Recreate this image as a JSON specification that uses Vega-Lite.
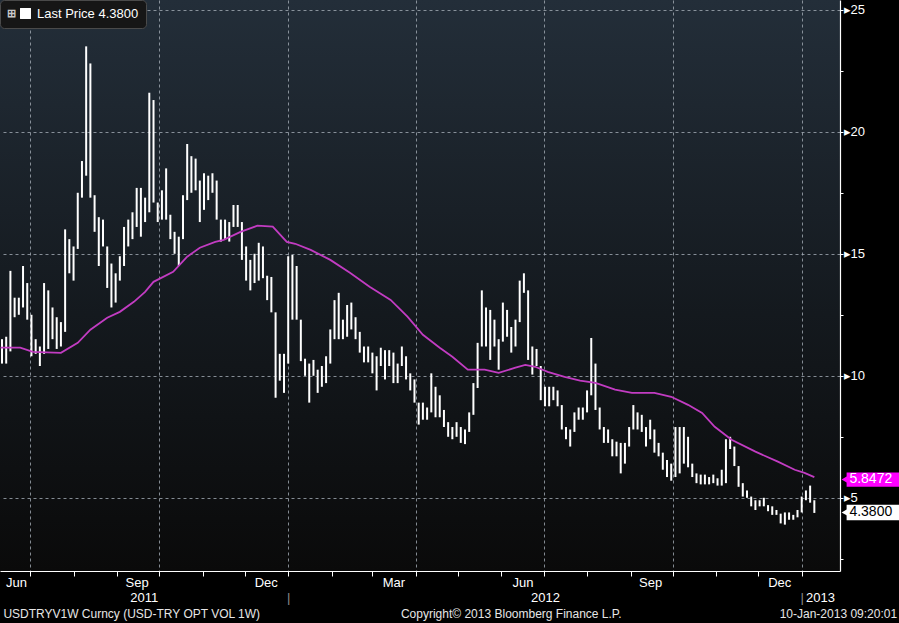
{
  "$schema": "https://vega.github.io/schema/vega-lite/v6.json",
  "autosize": {"type": "none"},
  "padding": {"left": 0, "top": 0, "right": 59, "bottom": 52},
  "width": 840,
  "height": 571,
  "background": "#000000",
  "view": {"fill": {"gradient": "linear", "x1": 0, "y1": 0, "x2": 0, "y2": 1, "stops": [{"offset": 0, "color": "#232e39"}, {"offset": 0.55, "color": "#14191e"}, {"offset": 1, "color": "#0a0a0a"}]}, "stroke": null},
  "config": {"font": "Liberation Sans"},
  "datasets": {
    "px": [
      {"d":"2011-06-11","l":10.5,"h":11.5},{"d":"2011-06-14","l":10.5,"h":11.6},{"d":"2011-06-17","l":11.0,"h":14.3},{"d":"2011-06-20","l":12.4,"h":13.2},
      {"d":"2011-06-23","l":12.5,"h":13.2},{"d":"2011-06-26","l":12.8,"h":14.5},{"d":"2011-06-29","l":12.3,"h":13.8},{"d":"2011-07-02","l":10.8,"h":12.5},
      {"d":"2011-07-05","l":10.9,"h":11.5},{"d":"2011-07-08","l":10.4,"h":11.2},{"d":"2011-07-11","l":10.9,"h":13.8},{"d":"2011-07-14","l":11.1,"h":13.5},
      {"d":"2011-07-17","l":11.5,"h":12.8},{"d":"2011-07-20","l":11.1,"h":12.4},{"d":"2011-07-23","l":11.2,"h":12.2},{"d":"2011-07-26","l":11.8,"h":16.0},
      {"d":"2011-07-29","l":14.2,"h":15.6},{"d":"2011-08-01","l":13.9,"h":15.3},{"d":"2011-08-04","l":15.2,"h":17.5},{"d":"2011-08-07","l":17.3,"h":18.8},
      {"d":"2011-08-10","l":18.2,"h":23.5},{"d":"2011-08-13","l":17.3,"h":22.8},{"d":"2011-08-16","l":15.9,"h":17.4},{"d":"2011-08-19","l":14.5,"h":16.5},
      {"d":"2011-08-22","l":15.3,"h":16.4},{"d":"2011-08-25","l":13.6,"h":15.3},{"d":"2011-08-28","l":12.8,"h":14.6},{"d":"2011-08-31","l":13.0,"h":14.2},
      {"d":"2011-09-03","l":13.9,"h":14.9},{"d":"2011-09-06","l":14.5,"h":16.1},{"d":"2011-09-09","l":15.3,"h":16.4},{"d":"2011-09-12","l":15.6,"h":16.7},
      {"d":"2011-09-15","l":16.1,"h":17.7},{"d":"2011-09-18","l":15.7,"h":17.7},{"d":"2011-09-21","l":16.3,"h":17.3},{"d":"2011-09-24","l":16.7,"h":21.6},
      {"d":"2011-09-27","l":17.1,"h":21.3},{"d":"2011-09-30","l":16.3,"h":17.1},{"d":"2011-10-03","l":16.4,"h":17.6},{"d":"2011-10-06","l":16.4,"h":18.5},
      {"d":"2011-10-09","l":15.6,"h":16.6},{"d":"2011-10-12","l":15.0,"h":15.9},{"d":"2011-10-15","l":14.5,"h":15.7},{"d":"2011-10-18","l":15.6,"h":17.4},
      {"d":"2011-10-21","l":17.2,"h":19.5},{"d":"2011-10-24","l":17.5,"h":19.0},{"d":"2011-10-27","l":17.6,"h":18.9},{"d":"2011-10-30","l":16.3,"h":18.0},
      {"d":"2011-11-02","l":16.8,"h":18.3},{"d":"2011-11-05","l":17.2,"h":18.2},{"d":"2011-11-08","l":17.5,"h":18.3},{"d":"2011-11-11","l":16.4,"h":18.0},
      {"d":"2011-11-14","l":15.5,"h":16.4},{"d":"2011-11-17","l":15.6,"h":16.4},{"d":"2011-11-20","l":15.5,"h":16.3},{"d":"2011-11-23","l":16.1,"h":17.0},
      {"d":"2011-11-26","l":16.1,"h":17.0},{"d":"2011-11-29","l":14.75,"h":16.3},{"d":"2011-12-02","l":13.9,"h":15.3},{"d":"2011-12-05","l":13.5,"h":14.75},
      {"d":"2011-12-08","l":13.8,"h":15.0},{"d":"2011-12-11","l":13.9,"h":15.45},{"d":"2011-12-14","l":14.0,"h":15.3},{"d":"2011-12-17","l":13.1,"h":14.1},
      {"d":"2011-12-20","l":12.6,"h":14.05},{"d":"2011-12-23","l":9.1,"h":12.6},{"d":"2011-12-26","l":9.8,"h":10.9},{"d":"2011-12-29","l":9.3,"h":10.9},
      {"d":"2012-01-01","l":10.5,"h":14.9},{"d":"2012-01-04","l":12.3,"h":14.95},{"d":"2012-01-07","l":12.3,"h":14.5},{"d":"2012-01-10","l":10.6,"h":12.3},
      {"d":"2012-01-13","l":10.0,"h":10.7},{"d":"2012-01-16","l":8.9,"h":10.5},{"d":"2012-01-19","l":10.0,"h":10.65},{"d":"2012-01-22","l":9.3,"h":10.25},
      {"d":"2012-01-25","l":9.55,"h":10.4},{"d":"2012-01-28","l":9.7,"h":10.8},{"d":"2012-01-31","l":10.5,"h":11.9},{"d":"2012-02-03","l":11.5,"h":13.1},
      {"d":"2012-02-06","l":11.5,"h":13.4},{"d":"2012-02-09","l":11.5,"h":12.3},{"d":"2012-02-12","l":11.6,"h":12.9},{"d":"2012-02-15","l":11.9,"h":13.0},
      {"d":"2012-02-18","l":11.5,"h":12.4},{"d":"2012-02-21","l":10.95,"h":11.8},{"d":"2012-02-24","l":10.55,"h":11.2},{"d":"2012-02-27","l":10.55,"h":11.2},
      {"d":"2012-03-01","l":10.1,"h":10.95},{"d":"2012-03-04","l":9.4,"h":10.8},{"d":"2012-03-07","l":10.4,"h":11.15},{"d":"2012-03-10","l":9.85,"h":11.05},
      {"d":"2012-03-13","l":10.4,"h":11.05},{"d":"2012-03-16","l":9.7,"h":10.95},{"d":"2012-03-19","l":9.7,"h":10.5},{"d":"2012-03-22","l":10.4,"h":11.2},
      {"d":"2012-03-25","l":9.85,"h":10.8},{"d":"2012-03-28","l":9.4,"h":10.1},{"d":"2012-03-31","l":8.9,"h":9.85},{"d":"2012-04-03","l":8.0,"h":8.9},
      {"d":"2012-04-06","l":8.2,"h":8.9},{"d":"2012-04-09","l":8.2,"h":8.7},{"d":"2012-04-12","l":8.5,"h":10.1},{"d":"2012-04-15","l":8.3,"h":9.55},
      {"d":"2012-04-18","l":8.3,"h":9.2},{"d":"2012-04-21","l":7.9,"h":8.6},{"d":"2012-04-24","l":7.5,"h":8.1},{"d":"2012-04-27","l":7.4,"h":7.9},
      {"d":"2012-04-30","l":7.5,"h":8.1},{"d":"2012-05-03","l":7.25,"h":7.9},{"d":"2012-05-06","l":7.2,"h":7.8},{"d":"2012-05-09","l":7.7,"h":8.5},
      {"d":"2012-05-12","l":8.4,"h":9.7},{"d":"2012-05-15","l":9.5,"h":11.35},{"d":"2012-05-18","l":11.2,"h":13.5},{"d":"2012-05-21","l":11.2,"h":12.8},
      {"d":"2012-05-24","l":10.65,"h":12.7},{"d":"2012-05-27","l":11.2,"h":12.3},{"d":"2012-05-30","l":10.25,"h":11.5},{"d":"2012-06-02","l":11.4,"h":13.0},
      {"d":"2012-06-05","l":11.6,"h":12.7},{"d":"2012-06-08","l":10.95,"h":12.0},{"d":"2012-06-11","l":11.2,"h":12.3},{"d":"2012-06-14","l":12.2,"h":13.9},
      {"d":"2012-06-17","l":13.4,"h":14.2},{"d":"2012-06-20","l":10.65,"h":13.5},{"d":"2012-06-23","l":10.05,"h":11.2},{"d":"2012-06-26","l":10.4,"h":11.1},
      {"d":"2012-06-29","l":9.0,"h":10.4},{"d":"2012-07-02","l":8.75,"h":9.55},{"d":"2012-07-05","l":8.75,"h":9.55},{"d":"2012-07-08","l":9.0,"h":9.55},
      {"d":"2012-07-11","l":8.75,"h":9.4},{"d":"2012-07-14","l":7.8,"h":8.8},{"d":"2012-07-17","l":7.4,"h":7.9},{"d":"2012-07-20","l":7.1,"h":7.8},
      {"d":"2012-07-23","l":7.7,"h":8.5},{"d":"2012-07-26","l":8.2,"h":8.7},{"d":"2012-07-29","l":8.2,"h":8.7},{"d":"2012-08-01","l":8.5,"h":9.4},
      {"d":"2012-08-04","l":9.2,"h":11.55},{"d":"2012-08-07","l":8.6,"h":10.5},{"d":"2012-08-10","l":7.8,"h":8.7},{"d":"2012-08-13","l":7.25,"h":7.9},
      {"d":"2012-08-16","l":7.25,"h":7.8},{"d":"2012-08-19","l":6.7,"h":7.4},{"d":"2012-08-22","l":6.7,"h":7.3},{"d":"2012-08-25","l":6.0,"h":7.25},
      {"d":"2012-08-28","l":6.4,"h":7.25},{"d":"2012-08-31","l":7.1,"h":7.9},{"d":"2012-09-03","l":7.8,"h":8.8},{"d":"2012-09-06","l":7.8,"h":8.5},
      {"d":"2012-09-09","l":7.7,"h":8.4},{"d":"2012-09-12","l":7.1,"h":7.9},{"d":"2012-09-15","l":7.4,"h":8.2},{"d":"2012-09-18","l":6.85,"h":7.8},
      {"d":"2012-09-21","l":6.7,"h":7.25},{"d":"2012-09-24","l":6.15,"h":6.85},{"d":"2012-09-27","l":5.85,"h":6.55},{"d":"2012-09-30","l":5.7,"h":6.4},
      {"d":"2012-10-03","l":5.85,"h":7.9},{"d":"2012-10-06","l":6.0,"h":7.9},{"d":"2012-10-09","l":6.4,"h":7.9},{"d":"2012-10-12","l":6.25,"h":7.5},
      {"d":"2012-10-15","l":5.85,"h":6.4},{"d":"2012-10-18","l":5.6,"h":6.0},{"d":"2012-10-21","l":5.55,"h":5.95},{"d":"2012-10-24","l":5.55,"h":5.95},
      {"d":"2012-10-27","l":5.55,"h":5.85},{"d":"2012-10-30","l":5.6,"h":5.95},{"d":"2012-11-02","l":5.5,"h":5.8},{"d":"2012-11-05","l":5.5,"h":6.15},
      {"d":"2012-11-08","l":5.6,"h":7.4},{"d":"2012-11-11","l":7.0,"h":7.5},{"d":"2012-11-14","l":6.3,"h":7.1},{"d":"2012-11-17","l":5.45,"h":6.3},
      {"d":"2012-11-20","l":5.05,"h":5.6},{"d":"2012-11-23","l":5.0,"h":5.3},{"d":"2012-11-26","l":4.65,"h":5.05},{"d":"2012-11-29","l":4.5,"h":4.9},
      {"d":"2012-12-02","l":4.65,"h":4.9},{"d":"2012-12-05","l":4.65,"h":5.0},{"d":"2012-12-08","l":4.45,"h":4.7},{"d":"2012-12-11","l":4.3,"h":4.65},
      {"d":"2012-12-14","l":4.3,"h":4.5},{"d":"2012-12-17","l":3.95,"h":4.35},{"d":"2012-12-20","l":3.9,"h":4.4},{"d":"2012-12-23","l":4.1,"h":4.4},
      {"d":"2012-12-26","l":4.1,"h":4.3},{"d":"2012-12-29","l":4.2,"h":4.5},{"d":"2013-01-01","l":4.4,"h":5.05},{"d":"2013-01-04","l":4.9,"h":5.3},
      {"d":"2013-01-07","l":4.8,"h":5.5},{"d":"2013-01-10","l":4.38,"h":4.9}
    ],
    "ma": [
      {"d":"2011-06-10","v":11.15},{"d":"2011-06-24","v":11.15},{"d":"2011-07-03","v":10.98},{"d":"2011-07-23","v":10.94},
      {"d":"2011-08-04","v":11.35},{"d":"2011-08-13","v":11.89},{"d":"2011-08-25","v":12.38},{"d":"2011-09-03","v":12.62},
      {"d":"2011-09-13","v":13.03},{"d":"2011-09-21","v":13.44},{"d":"2011-09-27","v":13.85},{"d":"2011-10-11","v":14.26},
      {"d":"2011-10-21","v":14.88},{"d":"2011-10-30","v":15.25},{"d":"2011-11-10","v":15.49},{"d":"2011-11-16","v":15.57},
      {"d":"2011-11-28","v":15.9},{"d":"2011-12-10","v":16.15},{"d":"2011-12-21","v":16.11},{"d":"2011-12-31","v":15.49},
      {"d":"2012-01-06","v":15.41},{"d":"2012-01-17","v":15.16},{"d":"2012-01-31","v":14.75},{"d":"2012-02-14","v":14.22},
      {"d":"2012-02-28","v":13.65},{"d":"2012-03-14","v":13.11},{"d":"2012-03-26","v":12.42},{"d":"2012-04-06","v":11.68},
      {"d":"2012-04-18","v":11.15},{"d":"2012-04-27","v":10.78},{"d":"2012-05-08","v":10.25},{"d":"2012-05-20","v":10.25},
      {"d":"2012-05-30","v":10.12},{"d":"2012-06-11","v":10.33},{"d":"2012-06-18","v":10.45},{"d":"2012-06-25","v":10.37},
      {"d":"2012-07-04","v":10.16},{"d":"2012-07-16","v":9.96},{"d":"2012-07-27","v":9.8},{"d":"2012-08-07","v":9.71},
      {"d":"2012-08-21","v":9.43},{"d":"2012-09-02","v":9.3},{"d":"2012-09-18","v":9.3},{"d":"2012-09-30","v":9.14},
      {"d":"2012-10-12","v":8.81},{"d":"2012-10-22","v":8.48},{"d":"2012-10-31","v":7.91},{"d":"2012-11-12","v":7.38},
      {"d":"2012-11-29","v":6.89},{"d":"2012-12-15","v":6.48},{"d":"2012-12-27","v":6.15},{"d":"2013-01-03","v":6.02},
      {"d":"2013-01-10","v":5.85}
    ],
    "tags": [
      {"s":"ma","t":"5.8472","d0":"2013-02-02","d1":"2013-03-13","dp":"2013-02-01","dt":"2013-02-04","lo":5.45,"hi":6.04,"mid":5.75},
      {"s":"px","t":"4.3800","d0":"2013-02-02","d1":"2013-03-13","dp":"2013-02-01","dt":"2013-02-04","lo":4.08,"hi":4.72,"mid":4.40}
    ],
    "foot": [
      {"p":"left","t":"USDTRYV1W Curncy (USD-TRY OPT VOL 1W)","d":"2011-06-12"},
      {"p":"center","t":"Copyright\u00a9 2013 Bloomberg Finance L.P.","d":"2012-06-08"},
      {"p":"right","t":"10-Jan-2013 09:20:01","d":"2013-03-10"}
    ]
  },
  "encoding": {
    "x": {
      "field": "d", "type": "temporal",
      "scale": {"type": "utc", "domain": [{"year": 2011, "month": 6, "date": 9, "hours": 14, "utc": true}, {"year": 2013, "month": 1, "date": 28, "hours": 7, "utc": true}]},
      "axis": {
        "title": null,
        "values": [
          {"year":2011,"month":7,"date":1,"utc":true},{"year":2011,"month":8,"date":1,"utc":true},{"year":2011,"month":9,"date":1,"utc":true},
          {"year":2011,"month":10,"date":1,"utc":true},{"year":2011,"month":11,"date":1,"utc":true},{"year":2011,"month":12,"date":1,"utc":true},
          {"year":2012,"month":1,"date":1,"utc":true},{"year":2012,"month":2,"date":1,"utc":true},{"year":2012,"month":3,"date":1,"utc":true},
          {"year":2012,"month":4,"date":1,"utc":true},{"year":2012,"month":5,"date":1,"utc":true},{"year":2012,"month":6,"date":1,"utc":true},
          {"year":2012,"month":7,"date":1,"utc":true},{"year":2012,"month":8,"date":1,"utc":true},{"year":2012,"month":9,"date":1,"utc":true},
          {"year":2012,"month":10,"date":1,"utc":true},{"year":2012,"month":11,"date":1,"utc":true},{"year":2012,"month":12,"date":1,"utc":true},
          {"year":2013,"month":1,"date":1,"utc":true},
          {"year":2011,"month":6,"date":21,"utc":true},{"year":2011,"month":9,"date":15,"utc":true},{"year":2011,"month":12,"date":16,"utc":true},
          {"year":2012,"month":3,"date":16,"utc":true},{"year":2012,"month":6,"date":16,"utc":true},{"year":2012,"month":9,"date":15,"utc":true},
          {"year":2012,"month":12,"date":16,"utc":true},
          {"year":2011,"month":9,"date":20,"utc":true},{"year":2012,"month":7,"date":2,"utc":true},{"year":2013,"month":1,"date":14,"utc":true}
        ],
        "labelExpr": "utcdate(datum.value) == 1 ? (utcmonth(datum.value) == 0 ? ['', '|'] : '') : (indexof([2, 14, 20], utcdate(datum.value)) >= 0 ? ['', utcFormat(datum.value, '%Y')] : utcFormat(datum.value, '%b'))",
        "labelColor": {"condition": {"test": "utcdate(datum.value) == 1", "value": "#8c8c8c"}, "value": "#ffffff"},
        "labelFontSize": 13,
        "labelPadding": 0,
        "labelLineHeight": 15,
        "labelBaseline": "top",
        "labelAlign": "center",
        "labelOverlap": false,
        "labelFlush": false,
        "labelBound": false,
        "tickColor": "#ffffff",
        "tickSize": 5,
        "tickOpacity": {"condition": {"test": "utcdate(datum.value) == 1", "value": 1}, "value": 0},
        "grid": true,
        "gridColor": "#a3abb4",
        "gridDash": [3, 3],
        "gridOpacity": {"condition": {"test": "utcdate(datum.value) == 1 && utcmonth(datum.value) % 3 == 0", "value": 0.8}, "value": 0},
        "domainColor": "#ffffff",
        "domainWidth": 1.2
      }
    }
  },
  "layer": [
    {
      "data": {"name": "px"},
      "mark": {"type": "rule", "strokeWidth": 2},
      "encoding": {
        "y": {
          "field": "l", "type": "quantitative",
          "scale": {"domain": [2.0, 25.4], "nice": false, "zero": false},
          "axis": {
            "orient": "right", "title": null,
            "values": [2.5, 5, 7.5, 10, 12.5, 15, 17.5, 20, 22.5, 25],
            "labelExpr": "datum.value % 5 == 0 ? '\u25b8' + datum.value : ''",
            "labelColor": "#ffffff", "labelFontSize": 13, "labelPadding": 0,
            "labelOverlap": false, "labelFlush": false, "labelBound": false,
            "tickColor": "#ffffff", "tickSize": 3,
            "domainColor": "#ffffff", "domainWidth": 1.2,
            "grid": true, "gridColor": "#a3abb4", "gridDash": [3, 3],
            "gridOpacity": {"condition": {"test": "datum.value % 5 == 0", "value": 0.8}, "value": 0}
          }
        },
        "y2": {"field": "h"},
        "color": {
          "datum": "Last Price 4.3800", "type": "nominal",
          "scale": {"range": ["#ffffff"]},
          "legend": {
            "orient": "top-left", "offset": 0, "title": "\u229e", "titleOrient": "left",
            "titleColor": "#c8c8c8", "titleFontSize": 11, "titlePadding": 3,
            "fillColor": "#161616", "strokeColor": "#4a4a4a", "cornerRadius": 4, "padding": 7,
            "labelColor": "#ffffff", "labelFontSize": 13, "labelOffset": 5,
            "symbolType": "square", "symbolSize": 120, "symbolFillColor": "#ffffff",
            "symbolStrokeColor": "#ffffff", "symbolStrokeWidth": 0
          }
        }
      }
    },
    {
      "data": {"name": "ma"},
      "mark": {"type": "line", "color": "#c23cc2", "strokeWidth": 1.8},
      "encoding": {"y": {"field": "v", "type": "quantitative"}}
    },
    {
      "data": {"name": "tags"},
      "mark": {"type": "rect", "clip": false},
      "encoding": {
        "x": {"field": "d0", "type": "temporal"},
        "x2": {"field": "d1"},
        "y": {"field": "lo", "type": "quantitative"},
        "y2": {"field": "hi"},
        "fill": {"field": "s", "type": "nominal", "scale": {"domain": ["ma", "px"], "range": ["#ff00ff", "#ffffff"]}, "legend": null}
      }
    },
    {
      "data": {"name": "tags"},
      "mark": {"type": "point", "shape": "triangle-left", "filled": true, "size": 70, "opacity": 1, "clip": false},
      "encoding": {
        "x": {"field": "dp", "type": "temporal"},
        "y": {"field": "mid", "type": "quantitative"},
        "fill": {"field": "s", "type": "nominal", "legend": null}
      }
    },
    {
      "data": {"name": "tags"},
      "transform": [{"filter": "datum.s == 'ma'"}],
      "mark": {"type": "text", "align": "left", "baseline": "middle", "fontSize": 14, "color": "#ffffff", "clip": false},
      "encoding": {
        "x": {"field": "dt", "type": "temporal"},
        "y": {"field": "mid", "type": "quantitative"},
        "text": {"field": "t"}
      }
    },
    {
      "data": {"name": "tags"},
      "transform": [{"filter": "datum.s == 'px'"}],
      "mark": {"type": "text", "align": "left", "baseline": "middle", "fontSize": 14, "color": "#000000", "clip": false},
      "encoding": {
        "x": {"field": "dt", "type": "temporal"},
        "y": {"field": "mid", "type": "quantitative"},
        "text": {"field": "t"}
      }
    },
    {
      "data": {"name": "foot"},
      "transform": [{"filter": "datum.p == 'left'"}],
      "mark": {"type": "text", "align": "left", "baseline": "middle", "fontSize": 12, "color": "#e6e6e6", "clip": false},
      "encoding": {"y": {"datum": 0.24, "type": "quantitative"}, "text": {"field": "t"}}
    },
    {
      "data": {"name": "foot"},
      "transform": [{"filter": "datum.p == 'center'"}],
      "mark": {"type": "text", "align": "center", "baseline": "middle", "fontSize": 12, "color": "#e6e6e6", "clip": false},
      "encoding": {"y": {"datum": 0.24, "type": "quantitative"}, "text": {"field": "t"}}
    },
    {
      "data": {"name": "foot"},
      "transform": [{"filter": "datum.p == 'right'"}],
      "mark": {"type": "text", "align": "right", "baseline": "middle", "fontSize": 12, "color": "#e6e6e6", "clip": false},
      "encoding": {"y": {"datum": 0.24, "type": "quantitative"}, "text": {"field": "t"}}
    }
  ]
}
